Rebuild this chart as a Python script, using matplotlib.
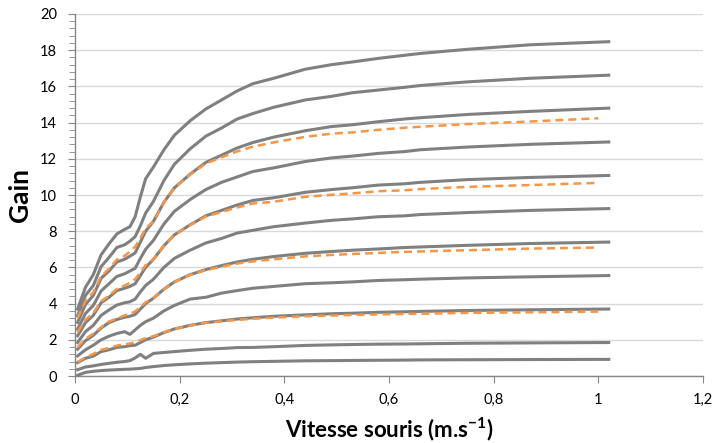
import numpy as np
import matplotlib.pyplot as plt
from matplotlib.ticker import FuncFormatter, MultipleLocator

plt.rcParams['font.family'] = ['Lato', 'DejaVu Sans']
plt.rcParams['mathtext.fontset'] = 'custom'
plt.rcParams['mathtext.bf'] = 'Lato:bold'
plt.rcParams['mathtext.rm'] = 'Lato'

# vitesse souris (m/s)
x_gris = [0.005, 0.02, 0.035, 0.05, 0.065, 0.08, 0.095, 0.105, 0.115, 0.125,
          0.135, 0.15, 0.17, 0.19, 0.22, 0.25, 0.28, 0.31, 0.34, 0.38,
          0.44, 0.49, 0.53, 0.58, 0.63, 0.66, 0.75, 0.87, 1.02]
x_orange = [0.005, 0.02, 0.035, 0.05, 0.065, 0.08, 0.095, 0.105, 0.115, 0.125,
            0.135, 0.15, 0.17, 0.19, 0.22, 0.25, 0.28, 0.31, 0.34, 0.38,
            0.44, 0.49, 0.53, 0.58, 0.63, 0.66, 0.75, 0.87, 1.0]

# courbes de gain (gris), du bas vers le haut
gain_1 = [0.04, 0.2, 0.26, 0.3, 0.33, 0.35, 0.37, 0.38, 0.4, 0.42, 0.47, 0.52, 0.58, 0.62, 0.67,
          0.71, 0.74, 0.77, 0.79, 0.81, 0.84, 0.85, 0.86, 0.87, 0.88, 0.89, 0.9, 0.91, 0.92]
gain_2 = [0.35, 0.5, 0.56, 0.64, 0.7, 0.76, 0.8, 0.85, 1.0, 1.2, 0.98, 1.25, 1.3, 1.35, 1.42,
          1.48, 1.52, 1.57, 1.58, 1.62, 1.69, 1.72, 1.74, 1.76, 1.77, 1.78, 1.81, 1.83, 1.85]
gain_3 = [0.74, 0.98, 1.1, 1.35, 1.45, 1.58, 1.62, 1.68, 1.7, 1.85, 2.0, 2.15, 2.4, 2.6, 2.8,
          2.95, 3.05, 3.15, 3.22, 3.3, 3.38, 3.44, 3.47, 3.52, 3.55, 3.57, 3.62, 3.66, 3.7]
gain_4 = [1.11, 1.45, 1.7, 2.0, 2.2, 2.35, 2.45, 2.3, 2.55, 2.8, 3.0, 3.2, 3.6, 3.9, 4.25,
          4.35, 4.58, 4.72, 4.85, 4.95, 5.1, 5.15, 5.2, 5.28, 5.32, 5.35, 5.42, 5.48, 5.55]
gain_5 = [1.48, 1.95, 2.25, 2.65, 2.95, 3.12, 3.25, 3.3, 3.4, 3.7, 4.0, 4.3, 4.8, 5.2, 5.6,
          5.88, 6.1, 6.3, 6.45, 6.6, 6.78, 6.88, 6.95, 7.02, 7.1, 7.13, 7.22, 7.32, 7.4]
gain_6 = [1.85, 2.45, 2.8, 3.35, 3.65, 3.92, 4.05, 4.1, 4.25, 4.65, 5.0, 5.35, 6.0, 6.5, 6.95,
          7.35, 7.6, 7.9, 8.05, 8.25, 8.45, 8.6, 8.68, 8.8, 8.85, 8.92, 9.03, 9.15, 9.25]
gain_7 = [2.22, 2.95, 3.35, 4.05, 4.35, 4.72, 4.85, 4.95, 5.1, 5.55, 6.0, 6.45, 7.2, 7.8, 8.35,
          8.85, 9.15, 9.45, 9.7, 9.85, 10.15, 10.3, 10.4, 10.55, 10.62, 10.7, 10.85, 10.97, 11.08]
gain_8 = [2.59, 3.45, 3.9, 4.7, 5.1, 5.5, 5.65, 5.8, 5.95, 6.5, 7.0, 7.5, 8.4, 9.1, 9.75,
          10.3, 10.7, 11.0, 11.3, 11.5, 11.85, 12.05, 12.15, 12.3, 12.4, 12.5, 12.65, 12.8, 12.93]
gain_9 = [2.96, 3.95, 4.45, 5.4, 5.8, 6.3, 6.45, 6.62, 6.8, 7.4, 8.0, 8.55, 9.6, 10.4, 11.15,
          11.8, 12.2, 12.6, 12.9, 13.2, 13.55, 13.78, 13.88, 14.05, 14.2, 14.27, 14.45, 14.62, 14.8]
gain_10 = [3.33, 4.45, 5.0, 6.05, 6.55, 7.1, 7.25, 7.45, 7.7, 8.3, 9.0, 9.65, 10.8, 11.7, 12.55,
           13.25, 13.7, 14.2, 14.5, 14.85, 15.25, 15.45, 15.65, 15.8, 15.95, 16.05, 16.25, 16.45, 16.62]
gain_11 = [3.7, 4.9, 5.6, 6.7, 7.3, 7.85, 8.1, 8.25, 8.8, 9.9, 10.9, 11.55, 12.5, 13.3, 14.1,
           14.75, 15.25, 15.75, 16.15, 16.45, 16.95, 17.2, 17.35, 17.55, 17.72, 17.82, 18.05, 18.3, 18.47]

# courbes orange (pointillés)
orange_1 = [0.77, 1.03, 1.22, 1.45, 1.55, 1.68, 1.75, 1.8, 1.85, 1.98, 2.1, 2.2, 2.42, 2.6, 2.79,
            2.94, 3.02, 3.1, 3.16, 3.23, 3.3, 3.34, 3.37, 3.41, 3.43, 3.44, 3.49, 3.52, 3.56]
orange_2 = [1.6, 2.05, 2.34, 2.7, 3.01, 3.18, 3.35, 3.43, 3.57, 3.81, 4.08, 4.3, 4.8, 5.2, 5.59,
            5.85, 6.04, 6.21, 6.33, 6.45, 6.61, 6.69, 6.74, 6.8, 6.86, 6.88, 6.95, 7.04, 7.1]
orange_3 = [2.42, 3.1, 3.48, 4.13, 4.44, 4.81, 5.0, 5.15, 5.36, 5.72, 6.12, 6.45, 7.2, 7.8, 8.33,
            8.81, 9.06, 9.31, 9.53, 9.63, 9.9, 10.01, 10.09, 10.21, 10.26, 10.33, 10.45, 10.55, 10.67]
orange_4 = [3.2, 4.15, 4.63, 5.51, 5.92, 6.43, 6.64, 6.88, 7.14, 7.62, 8.16, 8.55, 9.6, 10.4, 11.13,
            11.74, 12.08, 12.41, 12.67, 12.91, 13.21, 13.39, 13.46, 13.6, 13.72, 13.77, 13.92, 14.06, 14.24]

gris = [gain_1, gain_2, gain_3, gain_4, gain_5, gain_6, gain_7, gain_8, gain_9, gain_10, gain_11]
oranges = [orange_1, orange_2, orange_3, orange_4]

fig = plt.figure(figsize=(7.12, 4.43), dpi=100)
ax = fig.add_axes([0.1053, 0.1512, 0.8820, 0.8172])

for g in gris:
    ax.plot(x_gris, g, color='#808080', lw=2.2, solid_joinstyle='round', zorder=3)
for o in oranges:
    ax.plot(x_orange, o, color='#F79646', lw=1.8, ls=(0, (3.2, 2.0)), zorder=4)

ax.set_xlim(0, 1.2)
ax.set_ylim(0, 20)
ax.xaxis.set_major_locator(MultipleLocator(0.2))
ax.yaxis.set_major_locator(MultipleLocator(2))
ax.yaxis.set_minor_locator(MultipleLocator(0.4))

def virgule(v, pos):
    s = f'{v:.1f}'.rstrip('0').rstrip('.')
    return s.replace('.', ',')

ax.xaxis.set_major_formatter(FuncFormatter(virgule))
ax.grid(axis='y', color='#D9D9D9', lw=1)
ax.set_axisbelow(True)

for s in ['top', 'right']:
    ax.spines[s].set_visible(False)
for s in ['left', 'bottom']:
    ax.spines[s].set_color('#868686')
    ax.spines[s].set_linewidth(1)

ax.tick_params(axis='both', which='major', length=5, color='#868686', labelsize=10.5)
ax.tick_params(axis='y', which='minor', length=4, color='#868686')
ax.tick_params(axis='x', pad=7)
ax.tick_params(axis='y', pad=8)

ax.set_ylabel('Gain', fontsize=19, fontweight='bold', labelpad=6)
ax.set_xlabel('Vitesse souris (m.s$^{\\mathbf{-1}}$)', fontsize=16, fontweight='bold', labelpad=6)

fig.savefig('out.png', dpi=100)
